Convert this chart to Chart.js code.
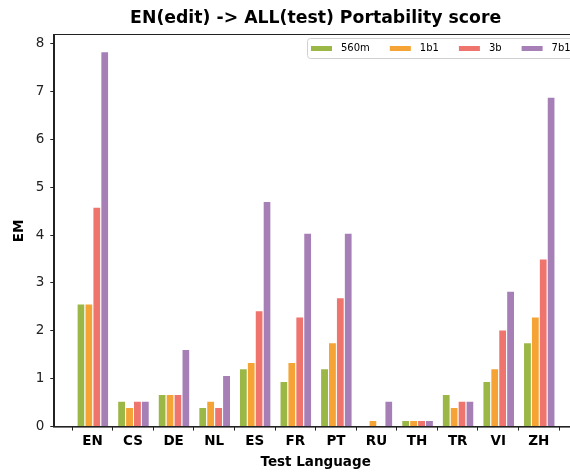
<!DOCTYPE html>
<html>
<head>
<meta charset="utf-8">
<script src="https://cdn.jsdelivr.net/npm/chart.js@4/dist/chart.umd.min.js"></script>
<style>
html,body{margin:0;padding:0;overflow:hidden;background:#fff;width:570px;height:475px;}
#wrap{position:absolute;left:0;top:0;width:630px;height:475px;}
</style>
</head>
<body>
<div id="wrap"><canvas id="c" width="630" height="475"></canvas></div>
<script>
const categories = ["EN","CS","DE","NL","ES","FR","PT","RU","TH","TR","VI","ZH"];
const seriesNames = ["560m","1b1","3b","7b1"];
const v560m = [2.57,0.54,0.68,0.41,1.22,0.95,1.22,0.00,0.14,0.68,0.95,1.76];
const v1b1  = [2.57,0.41,0.68,0.54,1.35,1.35,1.76,0.14,0.14,0.41,1.22,2.30];
const v3b   = [4.59,0.54,0.68,0.41,2.43,2.30,2.70,0.00,0.14,0.54,2.03,3.51];
const v7b1  = [7.84,0.54,1.62,1.08,4.71,4.05,4.05,0.54,0.14,0.54,2.84,6.89];
const yTicks = [0,1,2,3,4,5,6,7,8];
const colors = ["#9bb847","#f5a334","#ee746d","#a57fb6"];
const titleText = 'EN(edit) -> ALL(test) Portability score';

const allSeries = [v560m, v1b1, v3b, v7b1];
const datasets = allSeries.map((vals, k) => ({
  label: seriesNames[k],
  data: vals.map((v, i) => ({x: i, y: v})),
  backgroundColor: colors[k],
  borderColor: 'rgba(255,255,255,0.75)',
  borderWidth: {left:1, right:0, top:1, bottom:0},
  borderSkipped: false,
  categoryPercentage: 0.78,
  barPercentage: 1.0
}));

const deco = {
  id: 'deco',
  afterDraw(chart) {
    const ctx = chart.ctx, a = chart.chartArea;
    ctx.save();
    ctx.strokeStyle = '#222';
    ctx.lineWidth = 1;
    ctx.strokeRect(Math.round(a.left) - 0.5, Math.round(a.top) - 0.5, a.right - a.left, a.bottom - a.top + 1);
    ctx.fillStyle = '#000';
    ctx.font = 'bold 17.3px "DejaVu Sans"';
    ctx.textAlign = 'center';
    ctx.textBaseline = 'middle';
    ctx.fillText(titleText, (a.left + a.right) / 2, a.top - 16);
    ctx.font = '10px "DejaVu Sans"';
    const items = chart.data.datasets.map(d => ({label: d.label, color: d.backgroundColor}));
    const boxLeft = a.right - 270, boxTop = a.top + 3, boxH = 20;
    let x = boxLeft + 4;
    const pos = items.map(it => {
      const p = {x, it};
      x = x + 30 + ctx.measureText(it.label).width + 20;
      return p;
    });
    const boxRight = x - 12;
    ctx.fillStyle = 'rgba(255,255,255,0.85)';
    ctx.strokeStyle = '#d0d0d0';
    ctx.beginPath();
    ctx.roundRect(Math.round(boxLeft) + 0.5, Math.round(boxTop) + 0.5, boxRight - boxLeft, boxH, 3);
    ctx.fill();
    ctx.stroke();
    ctx.textAlign = 'left';
    ctx.textBaseline = 'middle';
    const cy = boxTop + boxH / 2 + 0.5;
    pos.forEach(p => {
      ctx.fillStyle = p.it.color;
      ctx.fillRect(p.x, cy - 2.5, 21, 5);
      ctx.fillStyle = '#000';
      ctx.fillText(p.it.label, p.x + 30, cy);
    });
    ctx.restore();
  }
};

new Chart(document.getElementById('c'), {
  type: 'bar',
  data: { datasets },
  options: {
    responsive: false,
    animation: false,
    devicePixelRatio: 1,
    layout: { padding: { left: 11, right: 53, top: 35, bottom: 4 } },
    font: { family: '"DejaVu Sans"' },
    plugins: {
      title: { display: false },
      legend: { display: false },
      tooltip: { enabled: false }
    },
    scales: {
      x: {
        type: 'linear',
        offset: false,
        min: -0.94,
        max: 11.94,
        afterBuildTicks: (s) => { s.ticks = categories.map((c, i) => ({ value: i })); },
        ticks: {
          autoSkip: false,
          maxRotation: 0,
          color: '#000',
          padding: 3,
          font: { family: '"DejaVu Sans"', size: 13.5, weight: 'bold' },
          callback: (v) => categories[v]
        },
        grid: { drawOnChartArea: false, drawTicks: true, tickLength: 4, color: '#222', tickColor: '#222' },
        border: { display: true, color: '#222', width: 1 },
        title: {
          display: true,
          text: 'Test Language',
          color: '#000',
          font: { family: '"DejaVu Sans"', size: 13.5, weight: 'bold' },
          padding: { top: 2, bottom: 0 }
        }
      },
      y: {
        min: 0,
        max: 8.18,
        afterBuildTicks: (s) => { s.ticks = yTicks.map(v => ({ value: v })); },
        ticks: {
          color: '#222',
          padding: 6,
          font: { family: '"DejaVu Sans"', size: 13.5 }
        },
        grid: { drawOnChartArea: false, drawTicks: true, tickLength: 4, color: '#222', tickColor: '#222' },
        border: { display: true, color: '#222', width: 1 },
        title: {
          display: true,
          text: 'EM',
          color: '#000',
          font: { family: '"DejaVu Sans"', size: 13.5, weight: 'bold' },
          padding: { top: 0, bottom: 2.5 }
        }
      }
    }
  },
  plugins: [deco]
});
</script>
</body>
</html>
